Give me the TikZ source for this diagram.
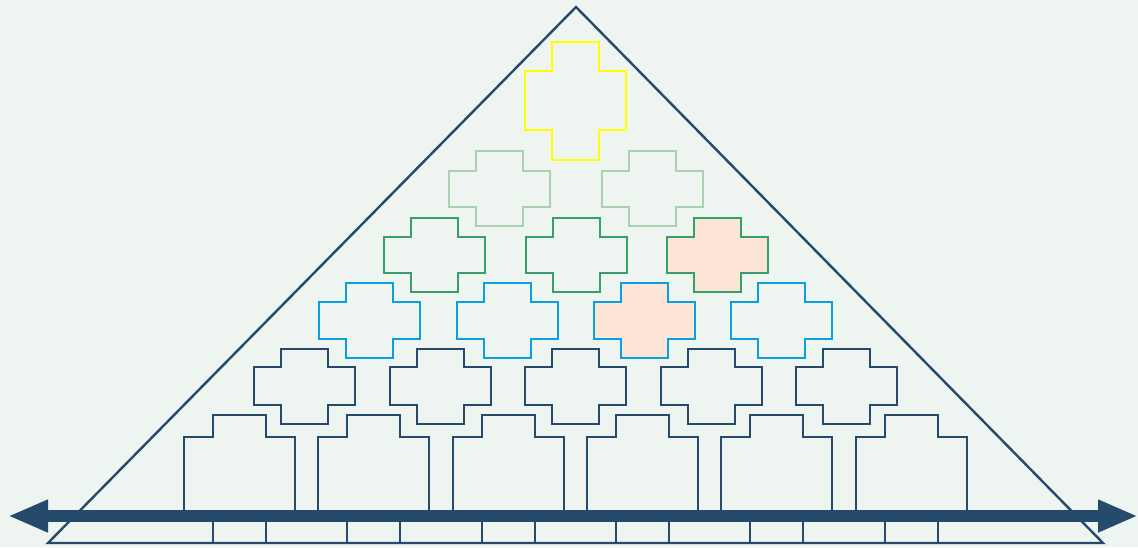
\documentclass[tikz,border=0pt]{standalone}
\usetikzlibrary{arrows.meta}
\definecolor{bg}{HTML}{EEF4F0}
\definecolor{navy}{HTML}{264A6C}
\definecolor{yel}{HTML}{FFFF00}
\definecolor{lgreen}{HTML}{A9D0B1}
\definecolor{dgreen}{HTML}{37A06A}
\definecolor{sky}{HTML}{0AA0E0}
\definecolor{peach}{HTML}{FCE4D6}
\tikzset{
  outline/.style={line width=2.6pt, line join=miter},
  navyx/.style={outline, draw=navy},
  yelx/.style={outline, draw=yel},
  lgx/.style={outline, draw=lgreen},
  dgx/.style={outline, draw=dgreen},
  skyx/.style={outline, draw=sky},
  filledx/.style={fill=peach},
  axis/.style={draw=navy, line width=12pt, {Triangle[length=40pt,width=30pt]}-{Triangle[length=40pt,width=30pt]}},
}
% #1 style, #2 left x, #3 top y, #4 inset, #5 arm width, #6 top arm h, #7 mid h, #8 bottom arm h
\newcommand\xcross[8]{%
  \draw[#1] (#2+#4,#3) -- ++(#5,0) -- ++(0,#6) -- ++(#4,0) -- ++(0,#7) -- ++(-#4,0)
    -- ++(0,#8) -- ++(-#5,0) -- ++(0,-#8) -- ++(-#4,0) -- ++(0,-#7) -- ++(#4,0) -- cycle;}
\begin{document}
\begin{tikzpicture}[x=1pt,y=-1pt]
\fill[bg] (0,0) rectangle (1138,547);
\useasboundingbox (0,0) rectangle (1138,547);
% pyramid
\coordinate (apex) at (576,7);
\coordinate (bl) at (48,543);
\coordinate (br) at (1103,543);
\draw[navy, line width=2.4pt, line join=miter] (apex) -- (bl) -- (br) -- cycle;
% row 1
\xcross{yelx}{525}{42}{27}{47}{29}{59}{30}
% row 2
\xcross{lgx}{449}{151}{27}{47}{20}{36}{19}
\xcross{lgx}{602}{151}{27}{47}{20}{36}{19}
% row 3
\xcross{dgx}{384}{218}{27}{47}{19}{36}{19}
\xcross{dgx}{526}{218}{27}{47}{19}{36}{19}
\xcross{dgx,filledx}{667}{218}{27}{47}{19}{36}{19}
% row 4
\xcross{skyx}{319}{283}{27}{47}{19}{37}{19}
\xcross{skyx}{457}{283}{27}{47}{19}{37}{19}
\xcross{skyx,filledx}{594}{283}{27}{47}{19}{37}{19}
\xcross{skyx}{731}{283}{27}{47}{19}{37}{19}
% row 5
\xcross{navyx}{254}{349}{27}{47}{18}{38}{19}
\xcross{navyx}{390}{349}{27}{47}{18}{38}{19}
\xcross{navyx}{525}{349}{27}{47}{18}{38}{19}
\xcross{navyx}{661}{349}{27}{47}{18}{38}{19}
\xcross{navyx}{796}{349}{27}{47}{18}{38}{19}
% row 6
\xcross{navyx}{184}{415}{29}{53}{22}{79}{27}
\xcross{navyx}{318}{415}{29}{53}{22}{79}{27}
\xcross{navyx}{453}{415}{29}{53}{22}{79}{27}
\xcross{navyx}{587}{415}{29}{53}{22}{79}{27}
\xcross{navyx}{721}{415}{29}{53}{22}{79}{27}
\xcross{navyx}{856}{415}{29}{53}{22}{79}{27}
% axis
\coordinate (axl) at (8,516);
\coordinate (axr) at (1138,516);
\draw[axis] (axl) -- (axr);
\end{tikzpicture}
\end{document}
